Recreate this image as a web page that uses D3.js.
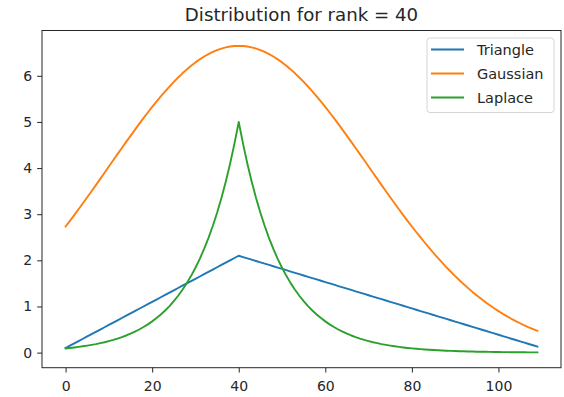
<!DOCTYPE html>
<html>
<head>
<meta charset="utf-8">
<script src="https://cdn.jsdelivr.net/npm/d3@7"></script>
<style>
  html, body { margin: 0; padding: 0; background: #fff; }
  svg { display: block; }
  text { font-family: "DejaVu Sans", sans-serif; fill: #262626; }
</style>
</head>
<body>
<svg id="chart" width="564" height="397"></svg>
<script>
// ---- data ----
const title = "Distribution for rank = 40";
const seriesNames = ["Triangle", "Gaussian", "Laplace"];
const xTicks = [0, 20, 40, 60, 80, 100];
const yTicks = [0, 1, 2, 3, 4, 5, 6];
const xValues = d3.range(0, 110); // ranks 0..109

const triangle = [
  0.100,0.150,0.200,0.250,0.300,0.350,0.400,0.450,0.500,0.550,
  0.600,0.650,0.700,0.750,0.800,0.850,0.900,0.950,1.000,1.050,
  1.100,1.150,1.200,1.250,1.300,1.350,1.400,1.450,1.500,1.550,
  1.600,1.650,1.700,1.750,1.800,1.850,1.900,1.950,2.000,2.050,
  2.100,2.071,2.043,2.014,1.986,1.957,1.929,1.900,1.872,1.843,
  1.815,1.786,1.757,1.729,1.700,1.672,1.643,1.615,1.586,1.558,
  1.529,1.500,1.472,1.443,1.415,1.386,1.358,1.329,1.301,1.272,
  1.244,1.215,1.186,1.158,1.129,1.101,1.072,1.044,1.015,0.987,
  0.958,0.929,0.901,0.872,0.844,0.815,0.787,0.758,0.730,0.701,
  0.673,0.644,0.615,0.587,0.558,0.530,0.501,0.473,0.444,0.416,
  0.387,0.358,0.330,0.301,0.273,0.244,0.216,0.187,0.159,0.130
];

const gaussian = [
  2.734,2.857,2.981,3.108,3.237,3.367,3.499,3.631,3.765,3.899,
  4.033,4.168,4.302,4.435,4.568,4.699,4.829,4.957,5.082,5.205,
  5.325,5.442,5.555,5.664,5.768,5.869,5.964,6.054,6.139,6.218,
  6.291,6.357,6.418,6.471,6.518,6.558,6.591,6.617,6.635,6.646,
  6.650,6.646,6.635,6.617,6.591,6.558,6.518,6.471,6.418,6.357,
  6.291,6.218,6.139,6.054,5.964,5.869,5.768,5.664,5.555,5.442,
  5.325,5.205,5.082,4.957,4.829,4.699,4.568,4.435,4.302,4.168,
  4.033,3.899,3.765,3.631,3.499,3.367,3.237,3.108,2.981,2.857,
  2.734,2.614,2.496,2.381,2.268,2.159,2.053,1.949,1.849,1.752,
  1.658,1.568,1.480,1.397,1.316,1.239,1.165,1.094,1.026,0.961,
  0.900,0.841,0.786,0.733,0.683,0.636,0.591,0.549,0.510,0.472
];

const laplace = [
  0.092,0.101,0.112,0.124,0.137,0.151,0.167,0.184,0.204,0.225,
  0.249,0.275,0.304,0.336,0.371,0.410,0.454,0.501,0.554,0.612,
  0.677,0.748,0.827,0.913,1.009,1.116,1.233,1.363,1.506,1.664,
  1.839,2.033,2.247,2.483,2.744,3.033,3.352,3.704,4.094,4.524,
  5.000,4.524,4.094,3.704,3.352,3.033,2.744,2.483,2.247,2.033,
  1.839,1.664,1.506,1.363,1.233,1.116,1.009,0.913,0.827,0.748,
  0.677,0.612,0.554,0.501,0.454,0.410,0.371,0.336,0.304,0.275,
  0.249,0.225,0.204,0.184,0.167,0.151,0.137,0.124,0.112,0.101,
  0.092,0.083,0.075,0.068,0.061,0.056,0.050,0.045,0.041,0.037,
  0.034,0.030,0.028,0.025,0.023,0.020,0.018,0.017,0.015,0.014,
  0.012,0.011,0.010,0.009,0.008,0.008,0.007,0.006,0.006,0.005
];

const colors = ["#1f77b4", "#ff7f0e", "#2ca02c"];
const seriesValues = [triangle, gaussian, laplace];

// ---- layout ----
const svg = d3.select("#chart");
const plotLeft = 42, plotRight = 561, plotTop = 30.5, plotBottom = 367.7;

const xExt = d3.extent(xValues);
const xPad = (xExt[1] - xExt[0]) * 0.05;
const x = d3.scaleLinear().domain([xExt[0] - xPad, xExt[1] + xPad]).range([plotLeft, plotRight]);

const allY = seriesValues.flat();
const yExt = d3.extent(allY);
const yPad = (yExt[1] - yExt[0]) * 0.05;
const y = d3.scaleLinear().domain([yExt[0] - yPad, yExt[1] + yPad]).range([plotBottom, plotTop]);

// lines
const line = d3.line().x((d, i) => x(xValues[i])).y(d => y(d));
seriesValues.forEach((vals, k) => {
  svg.append("path")
    .datum(vals)
    .attr("d", line)
    .attr("fill", "none")
    .attr("stroke", colors[k])
    .attr("stroke-width", 1.9)
    .attr("stroke-linejoin", "round")
    .attr("stroke-linecap", "square");
});

// frame
svg.append("rect")
  .attr("x", plotLeft).attr("y", plotTop)
  .attr("width", plotRight - plotLeft).attr("height", plotBottom - plotTop)
  .attr("fill", "none").attr("stroke", "#262626").attr("stroke-width", 1);

// axes
const xAxis = d3.axisBottom(x).tickValues(xTicks).tickSize(4.8).tickPadding(8.5).tickFormat(d3.format("d"));
const gx = svg.append("g").attr("transform", `translate(0,${plotBottom})`).call(xAxis);
gx.select(".domain").remove();
gx.selectAll("line").attr("stroke", "#262626");
gx.selectAll("text").attr("font-size", 14).attr("font-family", "DejaVu Sans").attr("fill", "#262626");

const yAxis = d3.axisLeft(y).tickValues(yTicks).tickSize(4.8).tickPadding(5).tickFormat(d3.format("d"));
const gy = svg.append("g").attr("transform", `translate(${plotLeft},0)`).call(yAxis);
gy.select(".domain").remove();
gy.selectAll("line").attr("stroke", "#262626");
gy.selectAll("text").attr("font-size", 14).attr("font-family", "DejaVu Sans").attr("fill", "#262626");

// title
svg.append("text")
  .attr("x", (plotLeft + plotRight) / 2).attr("y", 20.5)
  .attr("text-anchor", "middle")
  .attr("font-size", 18.2)
  .text(title);

// legend
const lg = svg.append("g");
lg.append("rect")
  .attr("x", 427).attr("y", 38).attr("width", 127).attr("height", 74.5)
  .attr("rx", 3).attr("ry", 3)
  .attr("fill", "#fff").attr("fill-opacity", 0.8)
  .attr("stroke", "#d5d5d5").attr("stroke-width", 1);
seriesNames.forEach((name, k) => {
  const yy = 49.5 + k * 24;
  lg.append("line")
    .attr("x1", 431).attr("x2", 464).attr("y1", yy).attr("y2", yy)
    .attr("stroke", colors[k]).attr("stroke-width", 1.9);
  lg.append("text")
    .attr("x", 477).attr("y", yy)
    .attr("dy", "0.36em")
    .attr("font-size", 14.5)
    .text(name);
});
</script>
</body>
</html>
